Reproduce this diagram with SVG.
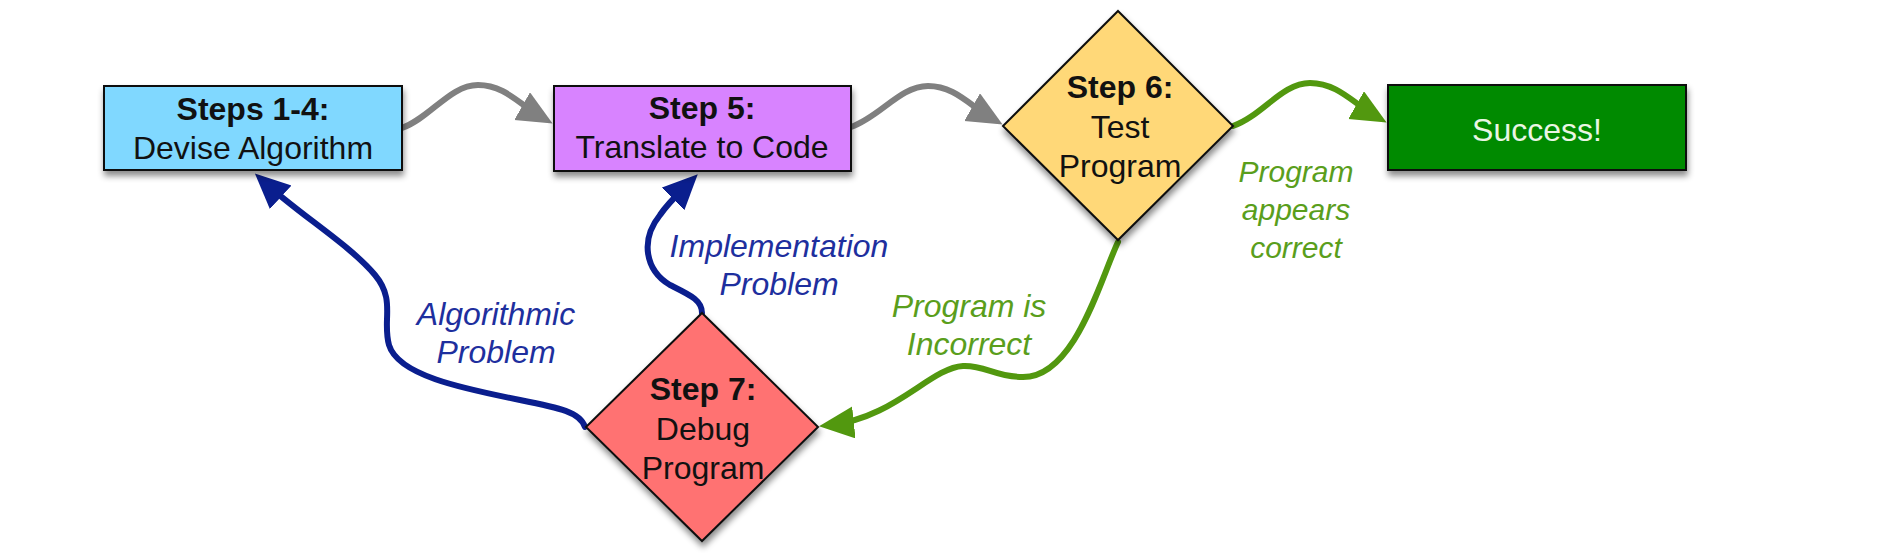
<svg xmlns="http://www.w3.org/2000/svg" width="1902" height="555" viewBox="0 0 1902 555">
<style>
  .node { stroke: #111; stroke-width: 2; filter: url(#shadow); }
  .t { font-family: "Liberation Sans", Arial, sans-serif; font-size: 32px; text-anchor: middle; fill: #111; }
  .b { font-weight: bold; }
  .lbl { font-family: "Liberation Sans", Arial, sans-serif; font-size: 32px; font-style: italic; text-anchor: middle; }
  .blueT { fill: #1e2f9e; }
  .greenT { fill: #5a9e1c; }
  .c { fill: none; stroke-width: 6; stroke-linecap: round; }
  .gray { stroke: #808080; marker-end: url(#ahGray); }
  .green { stroke: #52980f; marker-end: url(#ahGreen); }
  .blue { stroke: #0a1e8e; marker-end: url(#ahBlue); }
</style>
<defs>
  <filter id="shadow" x="-10%" y="-10%" width="130%" height="140%">
    <feDropShadow dx="1" dy="5" stdDeviation="3" flood-color="#000" flood-opacity="0.45"/>
  </filter>
  <marker id="ahGray" markerUnits="userSpaceOnUse" markerWidth="38" markerHeight="34" refX="24" refY="16" orient="auto">
    <path d="M0,0 L35,16 L0,32 z" fill="#808080"/>
  </marker>
  <marker id="ahGreen" markerUnits="userSpaceOnUse" markerWidth="38" markerHeight="34" refX="24" refY="16" orient="auto">
    <path d="M0,0 L35,16 L0,32 z" fill="#52980f"/>
  </marker>
  <marker id="ahBlue" markerUnits="userSpaceOnUse" markerWidth="38" markerHeight="34" refX="24" refY="16" orient="auto">
    <path d="M0,0 L35,16 L0,32 z" fill="#0a1e8e"/>
  </marker>
</defs>
<rect width="1902" height="555" fill="#fff"/>

<g id="connectors">
  <path class="c gray" d="M402,128 C430,118 450,85 478,85 C505,85 520,105 543,118"/>
  <path class="c gray" d="M851,127 C880,117 900,86 928,86 C955,86 970,106 993,119"/>
  <path class="c green" d="M1233,126 C1262,116 1282,83 1310,83 C1338,83 1354,104 1377,117"/>
  <path class="c green" d="M1118,242 C1100,280 1075,377 1023,377 C995,377 985,365 963,366 C930,368 895,418 830,425"/>
  <path class="c blue" d="M585,427 C580,412 560,408 520,400 C460,388 398,375 389,345 C382,320 396,300 375,275 C350,245 300,215 263,181"/>
  <path class="c blue" d="M702,313 C702,300 690,295 670,285 C645,270 640,240 660,215 C668,203 680,192 690,182"/>
  <text class="lbl blueT" x="496" y="325">Algorithmic</text>
  <text class="lbl blueT" x="496" y="363">Problem</text>
  <text class="lbl blueT" x="779" y="257">Implementation</text>
  <text class="lbl blueT" x="779" y="295">Problem</text>
  <text class="lbl greenT" x="969" y="317">Program is</text>
  <text class="lbl greenT" x="969" y="355">Incorrect</text>
  <text class="lbl greenT" x="1296" y="182" style="font-size:30px">Program</text>
  <text class="lbl greenT" x="1296" y="220" style="font-size:30px">appears</text>
  <text class="lbl greenT" x="1296" y="258" style="font-size:30px">correct</text>
</g>

<g id="step1-4">
  <rect class="node" x="104" y="86" width="298" height="84" fill="#80d8ff"/>
  <text class="t b" x="253" y="120">Steps 1-4:</text>
  <text class="t" x="253" y="159">Devise Algorithm</text>
</g>

<g id="step5">
  <rect class="node" x="554" y="86" width="297" height="85" fill="#d883ff"/>
  <text class="t b" x="702" y="119">Step 5:</text>
  <text class="t" x="702" y="158">Translate to Code</text>
</g>

<g id="step6">
  <polygon class="node" points="1118,11 1233,126 1118,240 1003,126" fill="#ffd878"/>
  <text class="t b" x="1120" y="98">Step 6:</text>
  <text class="t" x="1120" y="138">Test</text>
  <text class="t" x="1120" y="177">Program</text>
</g>

<g id="success">
  <rect class="node" x="1388" y="85" width="298" height="85" fill="#008a00"/>
  <text class="t" x="1537" y="141" style="fill:#eaf6e4">Success!</text>
</g>

<g id="step7">
  <polygon class="node" points="702,313 818,427 702,541 586,427" fill="#ff7272"/>
  <text class="t b" x="703" y="400">Step 7:</text>
  <text class="t" x="703" y="440">Debug</text>
  <text class="t" x="703" y="479">Program</text>
</g>
</svg>
